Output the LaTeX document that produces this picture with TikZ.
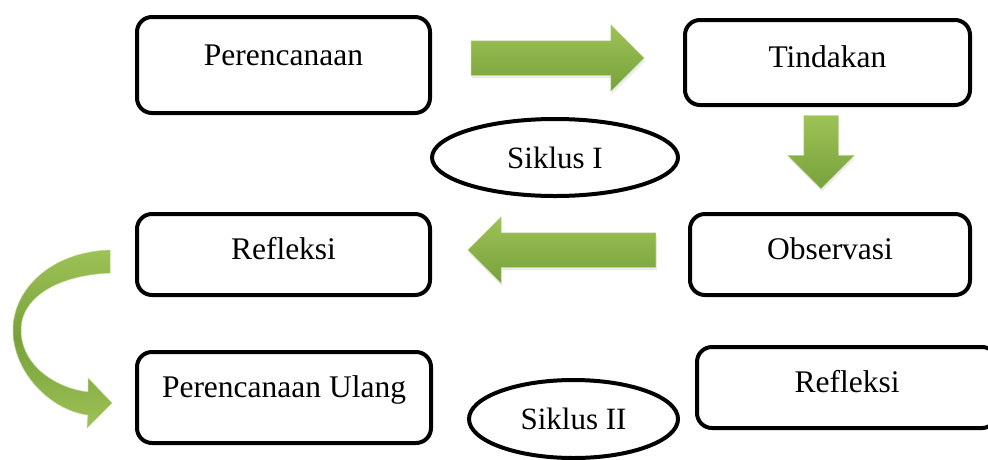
\documentclass[tikz,border=0pt]{standalone}
\usepackage{fontspec}
\setmainfont{Liberation Serif}
\usetikzlibrary{shapes.geometric,shapes.arrows,shadows}

\definecolor{leafgreen}{HTML}{9DC256}
\definecolor{mossgreen}{HTML}{78A13C}

\tikzset{
  stagebox/.style={draw, line width=4pt, rounded corners=15pt, fill=white,
    inner sep=0pt, text height=22pt, text depth=12pt,
    font=\fontsize{31.5}{36}\selectfont},
  cyclebubble/.style={draw, ellipse, line width=4pt, fill=white,
    inner sep=0pt, text height=21pt, text depth=0pt,
    font=\fontsize{31}{36}\selectfont},
  blockarrow/.style={single arrow, inner sep=0pt, text height=34pt, text depth=0pt,
    single arrow head extend=16pt, single arrow head indent=0pt,
    top color=leafgreen, bottom color=mossgreen,
    draw=leafgreen!70!white, line width=0.5pt,
    drop shadow={opacity=0.15, shadow xshift=1pt, shadow yshift=-3pt}}
}

\begin{document}
\begin{tikzpicture}[x=1pt, y=-1pt]
  \useasboundingbox (0,0) rectangle (988,459);

  % stages of cycle I
  \node[stagebox, minimum width=293pt, minimum height=96pt, text depth=22pt] (plan) at (283.5,65) {Perencanaan};
  \node[stagebox, minimum width=285pt, minimum height=85pt] (act) at (827.5,62.5) {Tindakan};
  \node[stagebox, minimum width=280pt, minimum height=81pt] (obs) at (830,254.5) {Observasi};
  \node[stagebox, minimum width=293pt, minimum height=81pt] (refl) at (283.5,254.5) {Refleksi};
  \node[cyclebubble, minimum width=246pt, minimum height=77pt] (cycA) at (555,157.5) {Siklus I};

  % stages of cycle II
  \node[stagebox, minimum width=294pt, minimum height=91pt, text depth=22pt] (replan) at (284,397.5) {Perencanaan Ulang};
  \node[stagebox, minimum width=300pt, minimum height=81pt] (reflB) at (847,387.5) {Refleksi};
  \node[cyclebubble, minimum width=209pt, minimum height=78pt] (cycB) at (573.5,419) {Siklus II};

  % block arrows
  \node[blockarrow, minimum height=173pt] (planact) at (549,58) {};
  \node[blockarrow, minimum height=73pt, text width=34pt, text height=0pt, shape border rotate=270] (actobs) at (821,143.5) {};
  \node[blockarrow, minimum height=188pt, shape border rotate=180] (obsrefl) at (570.5,250) {};

  % curved arrow to the next cycle
  \shade[top color=leafgreen, bottom color=leafgreen, middle color=mossgreen,
    draw=leafgreen!70!white, line width=0.5pt]
    (110,250) .. controls (50,252) and (13,290) .. (13,330)
    .. controls (13,372) and (50,410) .. (88,415)
    -- (87,428) -- (112,403) -- (88,378) -- (88,392)
    .. controls (55,388) and (21,365) .. (21,330)
    .. controls (21,296) and (60,275) .. (110,273) -- cycle;
\end{tikzpicture}
\end{document}
